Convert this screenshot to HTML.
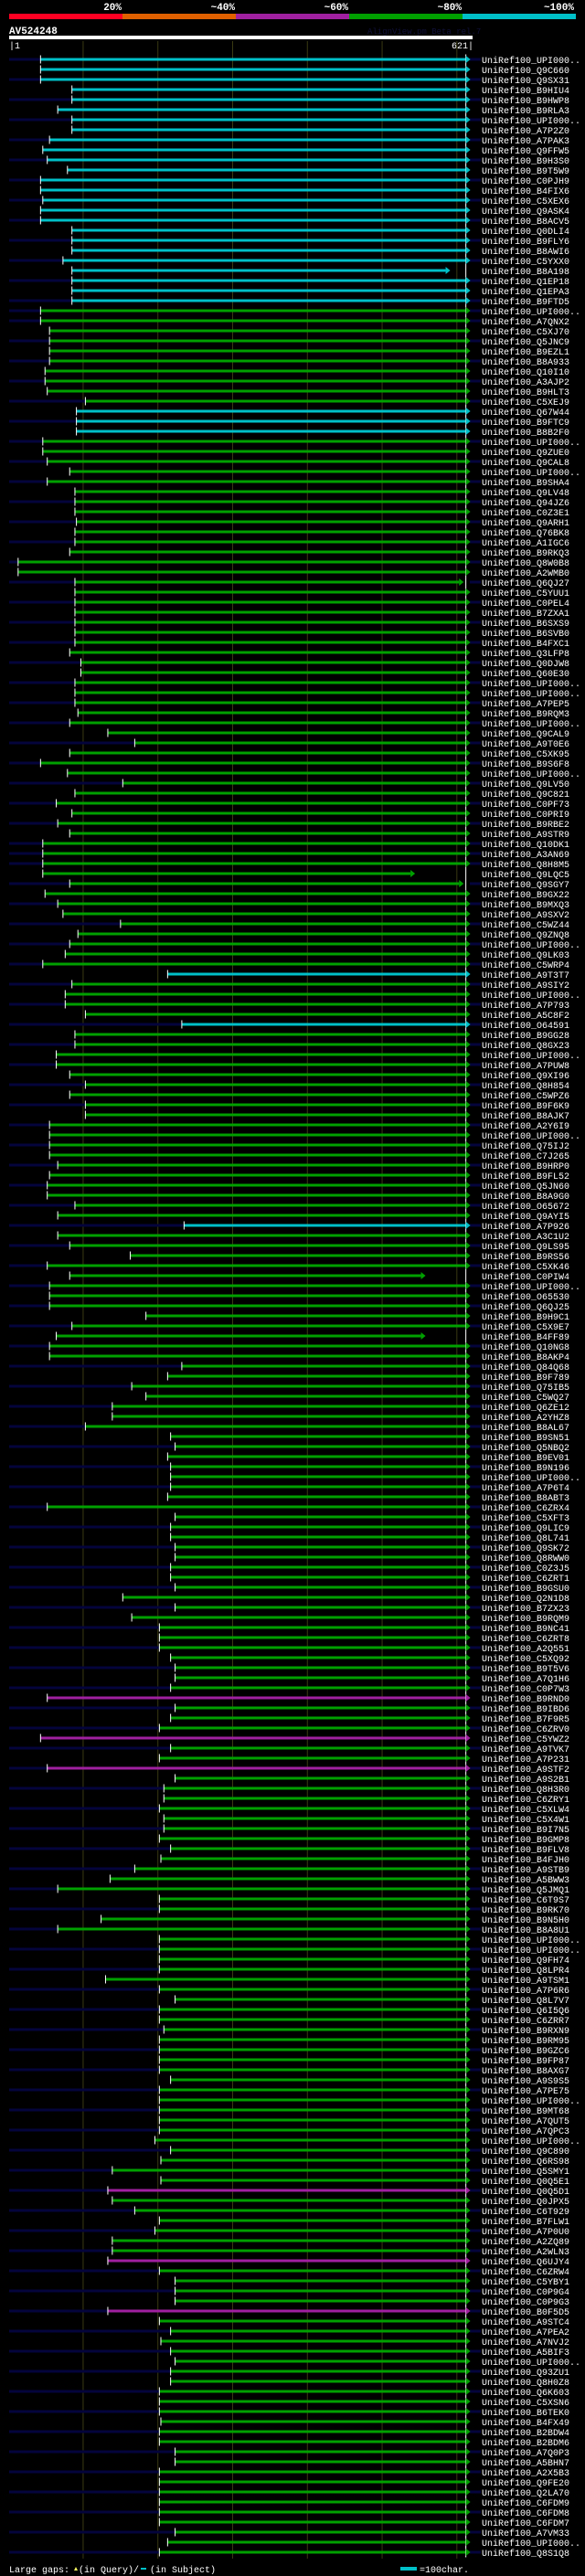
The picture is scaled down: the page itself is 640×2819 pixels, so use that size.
<!DOCTYPE html>
<html><head><meta charset="utf-8"><style>
html,body{margin:0;padding:0;background:#000;}
body{width:640px;height:2819px;overflow:hidden;position:relative;font-family:"Liberation Mono","DejaVu Sans Mono",monospace;}
svg{display:block}
text{font-family:"Liberation Mono","DejaVu Sans Mono",monospace;}
</style></head><body>
<svg id="chart" width="640" height="2819" viewBox="0 0 640 2819" xmlns="http://www.w3.org/2000/svg">
<rect x="0" y="0" width="640" height="2819" fill="#000"/>
<g>
<text x="133" y="11" fill="#fff" font-size="11" font-weight="bold" text-anchor="end">20%</text>
<text x="257" y="11" fill="#fff" font-size="11" font-weight="bold" text-anchor="end">~40%</text>
<text x="381" y="11" fill="#fff" font-size="11" font-weight="bold" text-anchor="end">~60%</text>
<text x="505" y="11" fill="#fff" font-size="11" font-weight="bold" text-anchor="end">~80%</text>
<text x="628" y="11" fill="#fff" font-size="11" font-weight="bold" text-anchor="end">~100%</text>
<rect x="10" y="15" width="124" height="6" fill="#ff0022"/>
<rect x="134" y="15" width="124" height="6" fill="#e06000"/>
<rect x="258" y="15" width="124" height="6" fill="#a020a0"/>
<rect x="382" y="15" width="124" height="6" fill="#00a000"/>
<rect x="506" y="15" width="124" height="6" fill="#00c0c8"/>
</g>
<text x="10" y="37" fill="#fff" font-size="11" font-weight="bold">AV524248</text>
<text x="402" y="37" fill="#10103a" font-size="9">AlignView.pm Beta rel.7</text>
<rect x="10" y="39" width="507" height="4" fill="#fff"/>
<text x="10" y="53" fill="#fff" font-size="10">|1</text>
<text x="518" y="53" fill="#fff" font-size="10" text-anchor="end">621|</text>
<g id="grid"></g>
<g id="rows"></g>
<g>
<text x="10" y="2815" fill="#fff" font-size="10">Large gaps:</text>
<path d="M81 2813 l2 -4 l2 4 z" fill="#ffff60"/>
<text x="86" y="2815" fill="#fff" font-size="10">(in Query)/</text>
<rect x="154" y="2810" width="6" height="2" fill="#00c0c8"/>
<text x="164" y="2815" fill="#fff" font-size="10">(in Subject)</text>
<rect x="438" y="2809" width="18" height="4" fill="#00c0c8"/>
<text x="459" y="2815" fill="#fff" font-size="10">=100char.</text>
</g>
</svg>
<script>
const queryLength = 621;
const gridTicks = [100, 200, 300, 400, 500, 600];
const hitNames = ["UPI000..","Q9C660","Q9SX31","B9HIU4","B9HWP8","B9RLA3","UPI000..","A7P2Z0","A7PAK3","Q9FFW5","B9H3S0","B9T5W9","C0PJH9","B4FIX6","C5XEX6","Q9ASK4","B8ACV5","Q0DLI4","B9FLY6","B8AWI6","C5YXX0","B8A198","Q1EP18","Q1EPA3","B9FTD5",
"UPI000..","A7QNX2","C5XJ70","Q5JNC9","B9EZL1","B8A933","Q10I10","A3AJP2","B9HLT3","C5XEJ9","Q67W44","B9FTC9","B8B2F0","UPI000..","Q9ZUE0","Q9CAL8","UPI000..","B9SHA4","Q9LV48","Q94JZ6","C0Z3E1","Q9ARH1","Q76BK8","A1IGC6","B9RKQ3",
"Q8W0B8","A2WMB0","Q6QJ27","C5YUU1","C0PEL4","B7ZXA1","B6SXS9","B6SVB0","B4FXC1","Q3LFP8","Q0DJW8","Q60E30",
"UPI000..","UPI000..","A7PEP5","B9RQM3","UPI000..","Q9CAL9","A9T0E6","C5XK95","B9S6F8","UPI000..","Q9LV50","Q9C821","C0PF73","C0PRI9","B9RBE2","A9STR9","Q10DK1","A3AN69","Q8H8M5","Q9LQC5","Q9SGY7","B9GX22","B9MXQ3","A9SXV2","C5WZ44",
"Q9ZNQ8","UPI000..","Q9LK03","C5WRP4","A9T3T7","A9SIY2","UPI000..","A7P793","A5C8F2","O64591","B9GG28","Q8GX23","UPI000..","A7PUW8","Q9XI96","Q8H854","C5WPZ6","B9F6K9","B8AJK7","A2Y6I9","UPI000..","Q75IJ2","C7J265","B9HRP0","B9FL52",
"Q5JN60","B8A9G0","O65672","Q9AYI5","A7P926","A3C1U2","Q9LS95","B9RS56","C5XK46","C0PIW4","UPI000..","O65530","Q6QJ25",
"B9H9C1","C5X9E7","B4FF89","Q10NG8","B8AKP4","Q84Q68","B9F789","Q75IB5","C5WQ27","Q6ZE12","A2YHZ8","B8AL67","B9SN51","Q5NBQ2","B9EV01","B9N196","UPI000..","A7P6T4","B8ABT3","C6ZRX4","C5XFT3","Q9LIC9","Q8L741","Q9SK72","Q8RWW0",
"C0Z3J5","C6ZRT1","B9GSU0","Q2N1D8","B7ZX23","B9RQM9","B9NC41","C6ZRT8","A2Q551","C5XQ92","B9T5V6","A7Q1H6","C0P7W3","B9RND0","B9IBD6","B7F9R5","C6ZRV0","C5YWZ2","A9TVK7","A7P231","A9STF2","A9S2B1","Q8H3R0","C6ZRY1","C5XLW4",
"C5X4W1","B9I7N5","B9GMP8","B9FLV8","B4FJH0","A9STB9","A5BWW3","Q5JMQ1","C6T9S7","B9RK70","B9N5H0","B8A8U1","UPI000..","UPI000..","Q9FH74","Q8LPR4","A9TSM1","A7P6R6","Q8L7V7","Q6I5Q6","C6ZRR7","B9RXN9","B9RM95","B9GZC6","B9FP87",
"B8AXG7","A9S9S5","A7PE75","UPI000..","B9MT68","A7QUT5","A7QPC3","UPI000..","Q9C890","Q6RS98","Q5SMY1","Q0Q5E1","Q0Q5D1","Q0JPX5","C6T929","B7FLW1","A7P0U0","A2ZQ89","A2WLN3","Q6UJY4","C6ZRW4","C5YBY1","C0P9G4","C0P9G3","B0F5D5",
"A9STC4","A7PEA2","A7NVJ2","A5BIF3","UPI000..","Q93ZU1","Q8H0Z8","Q6K603","C5XSN6","B6TEK0","B4FX49","B2BDW4","B2BDM6","A7Q0P3","A5BHN7","A2X5B3","Q9FE20","Q2LA70","C6FDM9","C6FDM8","C6FDM7","A7VM33","UPI000..","Q8S1Q8"];
const hitStarts = [43,43,43,85,85,66,85,85,55,46,52,79,43,43,46,43,43,85,85,85,73,85,85,85,85,
43,43,55,55,55,55,49,49,52,103,91,91,91,46,46,52,82,52,89,89,89,91,89,89,82,
13,13,89,89,89,89,89,89,89,82,97,97,
89,89,89,93,82,133,169,82,43,79,153,89,64,85,66,82,46,46,46,46,82,49,66,73,150,
93,82,76,46,213,85,76,76,103,232,89,89,64,64,82,103,82,103,103,55,55,55,55,66,55,
52,52,89,66,235,66,82,163,52,82,55,55,55,
184,85,64,55,55,232,213,165,184,139,139,103,217,223,213,217,217,217,213,52,223,217,217,223,223,
217,217,223,153,223,165,202,202,202,217,223,223,217,52,223,217,202,43,217,202,52,223,208,208,202,
208,208,202,217,204,169,136,66,202,202,124,66,202,202,202,202,130,202,223,202,202,208,202,202,202,
202,217,202,202,202,202,202,196,217,204,139,204,133,139,169,202,196,139,139,133,202,223,223,223,133,
202,217,204,217,223,217,217,202,202,202,204,202,202,223,223,202,202,202,202,202,202,223,213,202];
const defaultEnd = 612;
const shortEndRows = [22, 53, 82, 83, 122, 128];
const shortEndValues = [585, 603, 538, 603, 552, 552];
const cyanRows = [1,2,3,4,5,6,7,8,9,10,11,12,13,14,15,16,17,18,19,20,21,22,23,24,25,36,37,38,92,97,117];
const magentaRows = [164,168,171,213,220,225];
const extraExtRows = [26, 80];

const svgNS = "http://www.w3.org/2000/svg";
const X0 = 10, PX = (517 - 10) / (queryLength - 1);
function xScale(p){ return X0 + (p - 1) * PX; }
function yScale(i){ return 65 + i * 11; }
function mk(tag, attrs){ const e = document.createElementNS(svgNS, tag); for (const k in attrs) e.setAttribute(k, attrs[k]); return e; }

const grid = document.getElementById('grid');
gridTicks.forEach(t => {
  const l = mk('line', {x1: xScale(t), x2: xScale(t), y1: 45, y2: 2800, stroke: '#3a3a12', 'stroke-width': 1});
  
  
  grid.appendChild(l);
});

const rows = document.getElementById('rows');
hitNames.forEach((nm, i) => {
  const r = i + 1;
  const y = yScale(i);
  const color = cyanRows.includes(r) ? '#00c0c8' : (magentaRows.includes(r) ? '#a020a0' : '#00a000');
  const si = shortEndRows.indexOf(r);
  const endPos = si >= 0 ? shortEndValues[si] : defaultEnd;
  const sx = xScale(hitStarts[i]), ex = xScale(endPos);
  const ext = (r % 2 === 1) || extraExtRows.includes(r);
  const g = mk('g', {});
  
  
  if (ext) {
    const q = mk('rect', {x: X0, y: y - 1.5, width: Math.max(0, sx - X0), height: 3, fill: '#04043c'});
    
    
    g.appendChild(q);
    const q2 = mk('rect', {x: 514, y: y - 1.5, width: 12, height: 3, fill: '#04043c'});
    
    
    g.appendChild(q2);
  }
  const bar = mk('rect', {x: sx, y: y - 1.5, width: ex - sx, height: 3, fill: color});
  
  
  g.appendChild(bar);
  const st = mk('rect', {x: sx - 0.5, y: y - 4.5, width: 1, height: 9, fill: '#fff'});
  
  
  g.appendChild(st);
  const et = mk('rect', {x: xScale(defaultEnd) - 0.5, y: y - 5.5, width: 1, height: 11, fill: '#fff'});
  
  
  g.appendChild(et);
  const ar = mk('path', {d: 'M' + ex + ' ' + (y - 4) + ' L' + (ex + 5) + ' ' + y + ' L' + ex + ' ' + (y + 4) + ' Z', fill: color});
  
  
  g.appendChild(ar);
  const tx = mk('text', {x: 527, y: y + 4, fill: '#fff', 'font-size': 10});
  tx.textContent = 'UniRef100_' + nm;
  
  
  g.appendChild(tx);
  rows.appendChild(g);
});
</script>
</body></html>
